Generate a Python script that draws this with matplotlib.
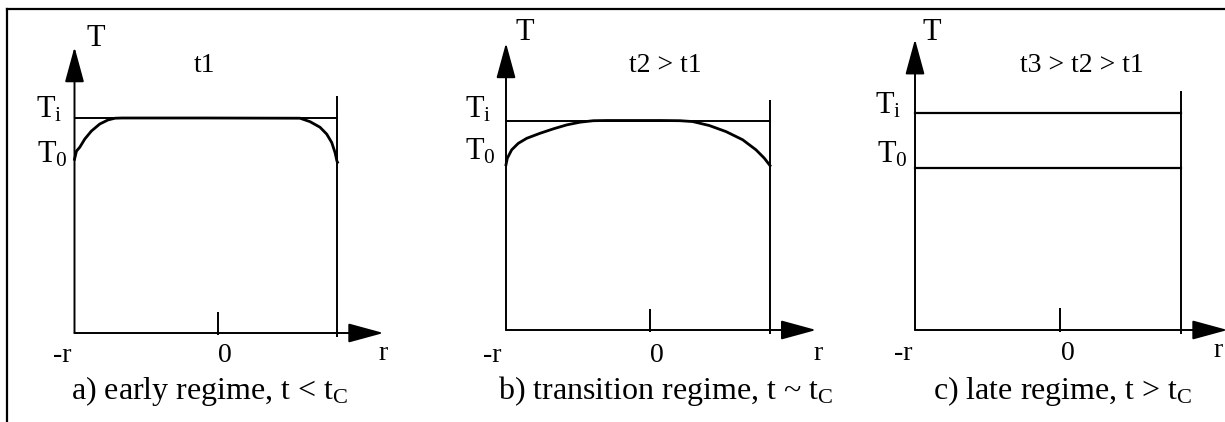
import numpy as np
import matplotlib
matplotlib.use('Agg')
import matplotlib.pyplot as plt
from matplotlib.lines import Line2D

plt.rcParams['font.family'] = ['Liberation Serif', 'DejaVu Serif']
plt.rcParams['mathtext.fontset'] = 'custom'
plt.rcParams['mathtext.rm'] = 'Liberation Serif'
plt.rcParams['mathtext.it'] = 'Liberation Serif:italic'

# temperature across the slab, r runs from -r (-1) to r (+1), T scaled so that Ti = 1
r_early = [-1.0, -0.996, -0.985, -0.960, -0.922, -0.872, -0.808, -0.745, -0.692, -0.639,
           0.0, 0.715, 0.791, 0.867, 0.918, 0.956, 0.981, 0.996, 1.0]
T_early = [0.808, 0.818, 0.846, 0.864, 0.902, 0.939, 0.972, 0.991, 0.999, 1.0,
           1.0, 0.999, 0.983, 0.957, 0.925, 0.886, 0.840, 0.799, 0.794]

r_trans = [-1.0, -0.990, -0.957, -0.907, -0.843, -0.742, -0.642, -0.540, -0.439, -0.338, -0.237,
           0.17, 0.318, 0.414, 0.540, 0.667, 0.793, 0.894, 0.957, 1.0]
T_trans = [0.789, 0.820, 0.860, 0.891, 0.915, 0.939, 0.960, 0.979, 0.992, 0.999, 1.0,
           1.0, 0.999, 0.995, 0.976, 0.947, 0.908, 0.860, 0.820, 0.785]

r_late = [-1.0, 1.0]
Ti_late = [1.0, 1.0]
T0_late = [0.747, 0.747]

titles = ['t1', 't2 > t1', 't3 > t2 > t1']
captions = [r'a) early regime, t < $\mathregular{t_C}$',
            r'b) transition regime, t ~ $\mathregular{t_C}$',
            r'c) late regime, t > $\mathregular{t_C}$']

W, H = 1225, 422
fig = plt.figure(figsize=(W / 100, H / 100), dpi=100)


def fx(x, y):
    return x / W, 1 - y / H


def make_axes(left, right, top, bottom):
    ax = fig.add_axes([left / W, 1 - bottom / H, (right - left) / W, (bottom - top) / H])
    ax.set_xlim(-1, 1)
    ax.set_ylim(0, 1)
    ax.axis('off')
    return ax


def frame(ax, ytop, zero=0.09):
    kw = dict(color='k', lw=1.4, clip_on=False, solid_capstyle='butt')
    arrow = dict(arrowstyle='-|>,head_length=2.2,head_width=0.6', mutation_scale=10,
                 color='k', lw=1.4, shrinkA=0, shrinkB=0)
    ax.annotate('', xy=(-1, ytop), xytext=(-1, 0), arrowprops=arrow, annotation_clip=False)
    ax.annotate('', xy=(1.35, 0), xytext=(-1, 0), arrowprops=arrow, annotation_clip=False)
    ax.plot([1, 1], [-0.02, 1.10], **kw)
    ax.plot([zero, zero], [-0.01, 0.10], **kw)


# outer border (top and left edges only)
fig.add_artist(Line2D([7 / W, 1], [1 - 9 / H, 1 - 9 / H], color='k', lw=1.6))
fig.add_artist(Line2D([7 / W, 7 / W], [1 - 9 / H, 0], color='k', lw=1.6))

# a) early regime
ax = make_axes(74.5, 337.5, 118, 333)
frame(ax, 1.33)
ax.plot([-1, 1], [1, 1], color='k', lw=1.4, clip_on=False)
ax.plot(r_early, T_early, color='k', lw=2.0, clip_on=False, solid_joinstyle='round')

# b) transition regime
ax = make_axes(506, 770, 120.5, 330)
frame(ax, 1.37)
ax.plot([-1, 1], [1, 1], color='k', lw=1.4, clip_on=False)
ax.plot(r_trans, T_trans, color='k', lw=2.0, clip_on=False, solid_joinstyle='round')

# c) late regime
ax = make_axes(915, 1181, 113, 330)
frame(ax, 1.34)
ax.plot(r_late, Ti_late, color='k', lw=1.6, clip_on=False)
ax.plot(r_late, T0_late, color='k', lw=1.6, clip_on=False)

# labels
fs_axis, fs_title, fs_tick, fs_cap = 22, 20, 20, 23
labels = [
    # T, title, Ti, T0, -r, 0, r, caption
    dict(T=(96, 38), title=(205, 65), Ti=(62, 118), T0=(68, 162),
         mr=(62, 362), zero=(225, 362), r=(383, 360), cap=(210, 399)),
    dict(T=(525, 33), title=(665, 65), Ti=(491, 118), T0=(496, 160),
         mr=(492, 362), zero=(657, 362), r=(818, 360), cap=(666, 399)),
    dict(T=(932, 33), title=(1082, 65), Ti=(901, 113), T0=(908, 162),
         mr=(903, 360), zero=(1068, 360), r=(1218, 357), cap=(1063, 399)),
]
for lab, title, cap in zip(labels, titles, captions):
    fig.text(*fx(*lab['T']), 'T', fontsize=fs_axis, ha='center', va='center')
    fig.text(*fx(*lab['title']), title, fontsize=fs_title, ha='center', va='center')
    fig.text(*fx(*lab['Ti']), r'$\mathregular{T_i}$', fontsize=fs_axis, ha='right', va='baseline')
    fig.text(*fx(*lab['T0']), r'$\mathregular{T_0}$', fontsize=fs_axis, ha='right', va='baseline')
    fig.text(*fx(*lab['mr']), '-r', fontsize=fs_tick, ha='center', va='baseline')
    fig.text(*fx(*lab['zero']), '0', fontsize=fs_tick, ha='center', va='baseline')
    fig.text(*fx(*lab['r']), 'r', fontsize=fs_tick, ha='center', va='baseline')
    fig.text(*fx(*lab['cap']), cap, fontsize=fs_cap, ha='center', va='baseline')

fig.savefig('out.png', dpi=100)
